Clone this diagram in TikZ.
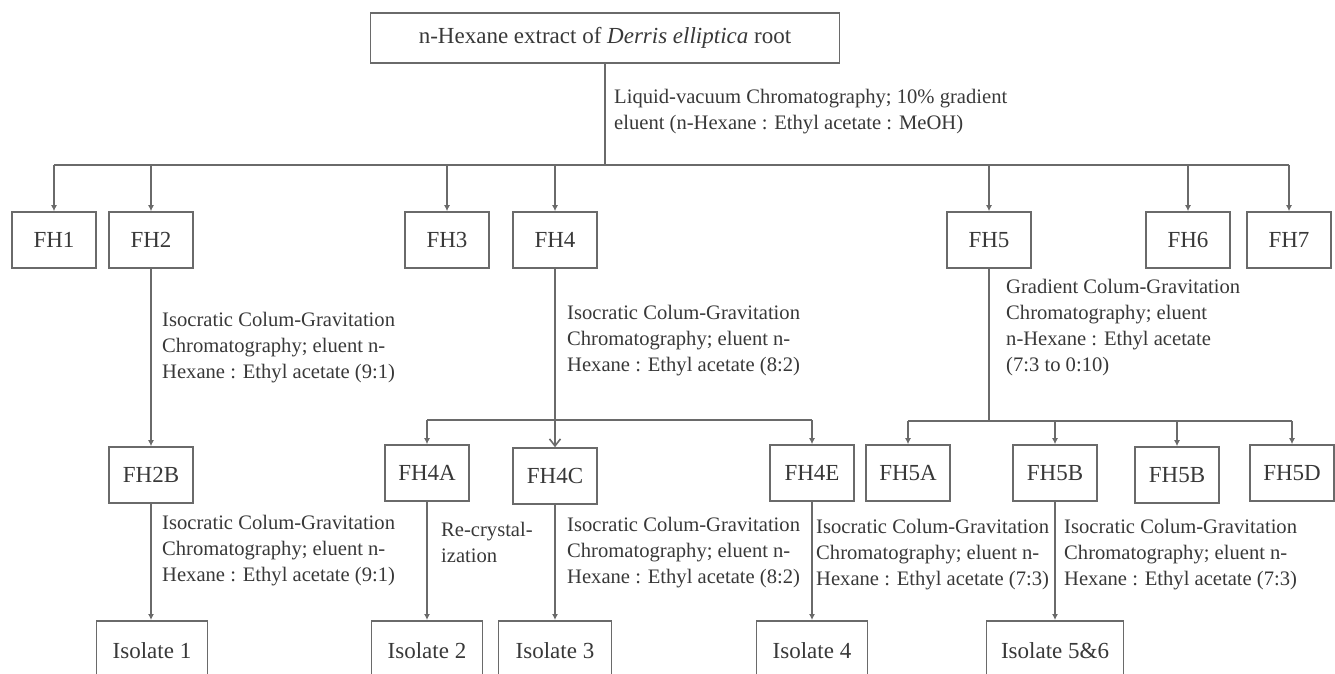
\documentclass[tikz,border=0pt]{standalone}
\usepackage{fontspec}
\setmainfont{Liberation Serif}
\usetikzlibrary{arrows.meta}
\definecolor{linegray}{HTML}{6A6A6A}
\definecolor{inkgray}{HTML}{383838}

\begin{document}
\begin{tikzpicture}[
  x=1pt, y=-1pt,
  fraction/.style={draw=linegray, line width=1.6pt, text=inkgray, minimum width=84pt, minimum height=56pt, inner sep=0pt, font=\fontsize{23}{27}\selectfont},
  isolate/.style={fraction, minimum width=111pt, minimum height=60pt, anchor=north},
  method/.style={anchor=north west, align=left, inner sep=0pt, text=inkgray, font=\fontsize{20.6}{26}\selectfont},
  link/.style={draw=linegray, line width=1.6pt},
  tip/.style={link, -{Latex[length=6pt, width=6pt]}},
  opentip/.style={link, -{Straight Barb[length=7pt, width=11pt]}}
]
\useasboundingbox (0,0) rectangle (1335,673);
\clip (0,0) rectangle (1335,673);

\node[fraction, minimum width=469pt, minimum height=50pt] (root) at (605,38) {n-Hexane extract of \textit{Derris elliptica} root};
\coordinate (split) at (605,165);
\node[method] (lvc) at (614,89) {Liquid-vacuum Chromatography; 10\% gradient\\eluent (n-Hexane : Ethyl acetate : MeOH)};

\node[fraction] (fh1) at (54,240) {FH1};
\node[fraction] (fh2) at (151,240) {FH2};
\node[fraction] (fh3) at (447,240) {FH3};
\node[fraction] (fh4) at (555,240) {FH4};
\node[fraction] (fh5) at (989,240) {FH5};
\node[fraction] (fh6) at (1188,240) {FH6};
\node[fraction] (fh7) at (1289,240) {FH7};

\node[method] (m2) at (162,312) {Isocratic Colum-Gravitation\\Chromatography; eluent n-\\Hexane : Ethyl acetate (9:1)};
\node[method] (m4) at (567,305) {Isocratic Colum-Gravitation\\Chromatography; eluent n-\\Hexane : Ethyl acetate (8:2)};
\node[method] (m5) at (1006,279) {Gradient Colum-Gravitation\\Chromatography; eluent\\n-Hexane : Ethyl acetate\\(7:3 to 0:10)};

\coordinate (split4) at (555,420);
\coordinate (split5) at (989,421);

\node[fraction] (fh2b) at (151,475) {FH2B};
\node[fraction] (fh4a) at (427,473) {FH4A};
\node[fraction] (fh4c) at (555,476) {FH4C};
\node[fraction] (fh4e) at (812,473) {FH4E};
\node[fraction] (fh5a) at (908,473) {FH5A};
\node[fraction] (fh5b) at (1055,473) {FH5B};
\node[fraction] (fh5c) at (1177,475) {FH5B};
\node[fraction] (fh5d) at (1292,473) {FH5D};

\node[method] (m2b) at (162,515) {Isocratic Colum-Gravitation\\Chromatography; eluent n-\\Hexane : Ethyl acetate (9:1)};
\node[method] (m4a) at (441,522) {Re-crystal-\\ization};
\node[method] (m4c) at (567,517) {Isocratic Colum-Gravitation\\Chromatography; eluent n-\\Hexane : Ethyl acetate (8:2)};
\node[method] (m4e) at (816,519) {Isocratic Colum-Gravitation\\Chromatography; eluent n-\\Hexane : Ethyl acetate (7:3)};
\node[method] (m5b) at (1064,519) {Isocratic Colum-Gravitation\\Chromatography; eluent n-\\Hexane : Ethyl acetate (7:3)};

\node[isolate] (iso1) at (152,620) {Isolate 1};
\node[isolate] (iso2) at (427,620) {Isolate 2};
\node[isolate, minimum width=113pt] (iso3) at (555,620) {Isolate 3};
\node[isolate] (iso4) at (812,620) {Isolate 4};
\node[isolate, minimum width=137pt] (iso56) at (1055,620) {Isolate 5\&6};

\draw[link] (root) -- (split);
\draw[link] (fh1 |- split) -- (fh7 |- split);
\foreach \f in {fh1,fh2,fh3,fh4,fh5,fh6,fh7}
  \draw[tip] (\f |- split) -- (\f);

\draw[tip] (fh2) -- (fh2b);
\draw[opentip] (fh4) -- (fh4c);
\draw[link] (fh4a |- split4) -- (fh4e |- split4);
\foreach \f in {fh4a,fh4e}
  \draw[tip] (\f |- split4) -- (\f);
\draw[link] (fh5) -- (split5);
\draw[link] (fh5a |- split5) -- (fh5d |- split5);
\foreach \f in {fh5a,fh5b,fh5c,fh5d}
  \draw[tip] (\f |- split5) -- (\f);

\draw[tip] (fh2b) -- (fh2b |- iso1.north);
\draw[tip] (fh4a) -- (iso2);
\draw[tip] (fh4c) -- (iso3);
\draw[tip] (fh4e) -- (iso4);
\draw[tip] (fh5b) -- (iso56);

\end{tikzpicture}
\end{document}
